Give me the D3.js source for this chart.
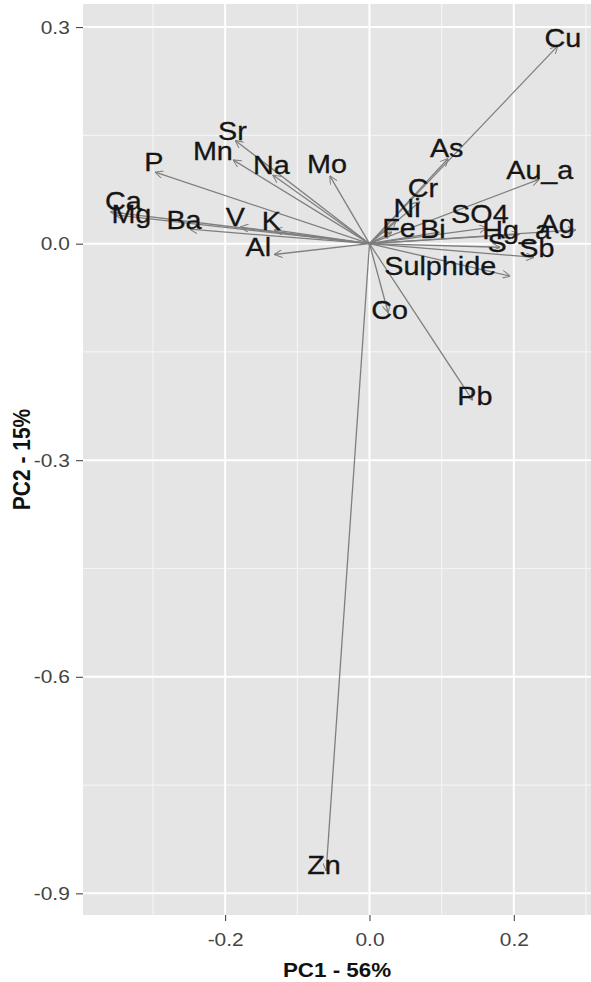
<!DOCTYPE html>
<html>
<head>
<meta charset="utf-8">
<script src="https://cdn.jsdelivr.net/npm/d3@7"></script>
<style>
  body { margin: 0; background: #fff; }
  svg { display: block; font-family: "Liberation Sans", Arial, sans-serif; }
</style>
</head>
<body>
<svg id="drawing_region_biplot"></svg>
<script>
// variable loadings (arrow tips)
const VARIABLES = ["Cu", "As", "Au_a", "Cr", "Ni", "Fe", "Bi", "SO4", "Hg_a", "Ag", "S", "Sb", "Sulphide",
  "Co", "Pb", "Zn", "Mo", "Na", "Mn", "Sr", "P", "Ca", "Mg", "Ba", "V", "K", "Al"];
const PC1 = [0.261, 0.109, 0.235, 0.070, 0.038, 0.031, 0.097, 0.163, 0.208, 0.286, 0.181, 0.228, 0.195,
  0.026, 0.143, -0.060, -0.055, -0.134, -0.189, -0.186, -0.297, -0.359, -0.353, -0.249, -0.179, -0.132, -0.132];
const PC2 = [0.274, 0.118, 0.089, 0.058, 0.034, 0.016, 0.016, 0.022, 0.013, 0.019, -0.005, -0.019, -0.045,
  -0.096, -0.217, -0.869, 0.094, 0.095, 0.116, 0.143, 0.099, 0.044, 0.040, 0.020, 0.023, 0.019, -0.015];

// where each name sits (text layer, same units)
const LABEL_PC1 = [0.268, 0.107, 0.236, 0.074, 0.052, 0.041, 0.088, 0.153, 0.204, 0.260, 0.177, 0.232, 0.098,
  0.028, 0.146, -0.063, -0.059, -0.136, -0.217, -0.190, -0.299, -0.341, -0.330, -0.257, -0.186, -0.136, -0.154];
const LABEL_PC2 = [0.285, 0.132, 0.102, 0.077, 0.049, 0.022, 0.020, 0.041, 0.019, 0.027, 0.001, -0.006, -0.031,
  -0.092, -0.211, -0.861, 0.110, 0.109, 0.128, 0.156, 0.113, 0.059, 0.041, 0.033, 0.037, 0.031, -0.004];

const X_TICKS = [-0.2, 0.0, 0.2];
const Y_TICKS = [-0.9, -0.6, -0.3, 0.0, 0.3];
const X_DOMAIN = [-0.397, 0.307];
const Y_DOMAIN = [-0.930, 0.332];
const X_TITLE = "PC1 - 56%";
const Y_TITLE = "PC2 - 15%";

class Biplot {
  constructor(config, data) {
    this.config = {
      parent: config.parent,
      width: config.width || 256,
      height: config.height || 256,
      margin: config.margin || { top: 10, right: 10, bottom: 10, left: 10 },
      xlabel: config.xlabel || "",
      ylabel: config.ylabel || "",
    };
    this.data = data;
    this.init();
  }

  init() {
    let self = this;

    self.svg = d3
      .select(self.config.parent)
      .attr("width", self.config.width)
      .attr("height", self.config.height);

    self.innerWidth =
      self.config.width - self.config.margin.left - self.config.margin.right;
    self.innerHeight =
      self.config.height - self.config.margin.top - self.config.margin.bottom;

    self.chart = self.svg
      .append("g")
      .attr("transform", `translate(${self.config.margin.left}, ${self.config.margin.top})`);

    self.xscale = d3.scaleLinear().domain(X_DOMAIN).range([0, self.innerWidth]);
    self.yscale = d3.scaleLinear().domain(Y_DOMAIN).range([self.innerHeight, 0]);

    // open arrow head
    self.svg
      .append("defs")
      .append("marker")
      .attr("id", "head")
      .attr("viewBox", "0 -5 10 10")
      .attr("refX", 10)
      .attr("refY", 0)
      .attr("markerWidth", 8)
      .attr("markerHeight", 8)
      .attr("markerUnits", "userSpaceOnUse")
      .attr("orient", "auto")
      .append("path")
      .attr("d", "M0,-5L10,0L0,5")
      .attr("fill", "none")
      .attr("stroke", "#7f7f7f")
      .attr("stroke-width", 1.3);

    const xlabelSpace = 62;
    self.svg
      .append("text")
      .attr("transform", `translate(${self.config.margin.left + self.innerWidth / 2}, ${self.config.margin.top + self.innerHeight + xlabelSpace}) scale(1.12, 1)`)
      .attr("text-anchor", "middle")
      .style("font-size", "20px")
      .attr("font-weight", "bold")
      .attr("fill", "#111")
      .text(self.config.xlabel);

    self.svg
      .append("text")
      .attr("transform", `translate(30, ${self.config.margin.top + self.innerHeight / 2}) rotate(-90) scale(1, 1.12)`)
      .attr("text-anchor", "middle")
      .style("font-size", "21px")
      .attr("font-weight", "bold")
      .attr("fill", "#111")
      .text(self.config.ylabel);
  }

  render() {
    let self = this;

    self.chart
      .append("rect")
      .attr("width", self.innerWidth)
      .attr("height", self.innerHeight)
      .attr("fill", "#e5e5e5");

    const minor = (ticks, domain) => {
      const step = ticks[1] - ticks[0];
      return [ticks[0] - step / 2, ...ticks.map((t) => t + step / 2)]
        .filter((t) => t >= domain[0] && t <= domain[1]);
    };

    const grid = self.chart.append("g");
    grid.selectAll(".vminor")
      .data(minor(X_TICKS, X_DOMAIN))
      .join("line")
      .attr("x1", (d) => self.xscale(d))
      .attr("x2", (d) => self.xscale(d))
      .attr("y2", self.innerHeight)
      .attr("stroke", "#f4f4f4")
      .attr("stroke-width", 1.2);
    grid.selectAll(".hminor")
      .data(minor(Y_TICKS, Y_DOMAIN))
      .join("line")
      .attr("y1", (d) => self.yscale(d))
      .attr("y2", (d) => self.yscale(d))
      .attr("x2", self.innerWidth)
      .attr("stroke", "#f4f4f4")
      .attr("stroke-width", 1.2);
    grid.selectAll(".vmajor")
      .data(X_TICKS)
      .join("line")
      .attr("x1", (d) => self.xscale(d))
      .attr("x2", (d) => self.xscale(d))
      .attr("y2", self.innerHeight)
      .attr("stroke", "#fff")
      .attr("stroke-width", 2);
    grid.selectAll(".hmajor")
      .data(Y_TICKS)
      .join("line")
      .attr("y1", (d) => self.yscale(d))
      .attr("y2", (d) => self.yscale(d))
      .attr("x2", self.innerWidth)
      .attr("stroke", "#fff")
      .attr("stroke-width", 2);

    self.chart
      .selectAll(".arrow")
      .data(self.data)
      .join("line")
      .attr("class", "arrow")
      .attr("x1", self.xscale(0))
      .attr("y1", self.yscale(0))
      .attr("x2", (d) => self.xscale(d.pc1))
      .attr("y2", (d) => self.yscale(d.pc2))
      .attr("stroke", "#7f7f7f")
      .attr("stroke-width", 1.3)
      .attr("marker-end", "url(#head)");

    self.chart
      .selectAll(".varname")
      .data(self.data)
      .join("text")
      .attr("class", "varname")
      .attr("transform", (d) => `translate(${self.xscale(d.lx)}, ${self.yscale(d.ly)}) scale(1.15, 1)`)
      .attr("dy", "0.36em")
      .attr("text-anchor", "middle")
      .style("font-size", "25px")
      .attr("fill", "#151515")
      .attr("stroke", "#151515")
      .attr("stroke-width", 0.3)
      .text((d) => d.name);

    const xaxis = d3.axisBottom(self.xscale)
      .tickValues(X_TICKS)
      .tickSize(6)
      .tickPadding(12)
      .tickFormat((d) => d.toFixed(1));
    const yaxis = d3.axisLeft(self.yscale)
      .tickValues(Y_TICKS)
      .tickSize(7)
      .tickPadding(5)
      .tickFormat((d) => d.toFixed(1));

    const styleAxis = (g) => {
      g.select(".domain").remove();
      g.selectAll(".tick line").attr("stroke", "#333");
      g.selectAll(".tick text")
        .attr("fill", "#444")
        .style("font-size", "19px");
    };

    self.chart.append("g")
      .attr("transform", `translate(0, ${self.innerHeight})`)
      .call(xaxis)
      .call(styleAxis)
      .selectAll(".tick text")
      .attr("transform", "scale(1.1, 1)");

    self.chart.append("g")
      .call(yaxis)
      .call(styleAxis)
      .selectAll(".tick text")
      .attr("transform", "scale(1.1, 1)");
  }
}

const rows = VARIABLES.map((name, i) => ({
  name: name,
  pc1: PC1[i],
  pc2: PC2[i],
  lx: LABEL_PC1[i],
  ly: LABEL_PC2[i],
}));

const biplot = new Biplot(
  {
    parent: "#drawing_region_biplot",
    width: 591,
    height: 982,
    margin: { top: 4, right: 0, bottom: 67, left: 83 },
    xlabel: X_TITLE,
    ylabel: Y_TITLE,
  },
  rows
);
biplot.render();
</script>
</body>
</html>
